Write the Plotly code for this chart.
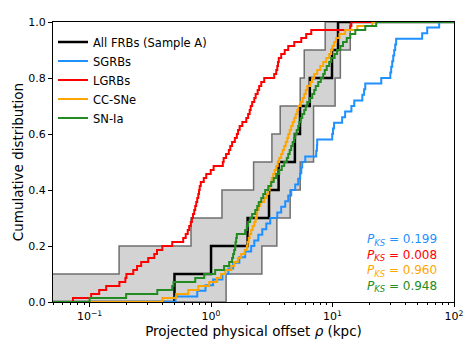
import plotly.graph_objects as go

# Projected offsets (kpc)
frb_offsets = [0.50, 1.00, 2.0, 3.0, 3.6, 4.9, 5.4, 6.5, 9.9, 11.1]

sgrb_offsets = [0.51, 0.77, 0.90, 1.04, 1.24, 1.39, 1.52, 1.71, 1.91, 2.14,
                2.27, 2.45, 2.64, 2.85, 3.07, 3.51, 3.78, 4.08, 4.32, 4.57,
                4.93, 5.22, 5.42, 5.53, 5.63, 5.96, 7.34, 7.44, 7.48, 9.94,
                10.1, 10.3, 12.0, 12.7, 14.3, 15.1, 17.6, 18.2, 18.6, 25.2,
                29.9, 30.4, 31.0, 31.6, 32.2, 32.8, 33.4, 54.7, 60.2, 75.5]

lgrb_offsets = [0.073, 0.103, 0.120, 0.137, 0.176, 0.197, 0.201, 0.229, 0.246, 0.266,
                0.304, 0.341, 0.359, 0.397, 0.479, 0.590, 0.619, 0.643, 0.661, 0.681,
                0.696, 0.710, 0.727, 0.741, 0.755, 0.770, 0.785, 0.797, 0.807, 0.823,
                0.871, 0.913, 0.994, 1.05, 1.25, 1.27, 1.33, 1.40, 1.44, 1.49,
                1.57, 1.63, 1.67, 1.72, 1.81, 1.95, 2.02, 2.08, 2.12, 2.18,
                2.27, 2.33, 2.42, 2.49, 2.59, 2.74, 3.31, 3.44, 3.51, 3.56,
                3.61, 3.78, 4.04, 4.32, 4.84, 5.53, 6.07, 6.68, 14.0, 14.3]

ccsn_offsets = [0.397, 0.517, 0.649, 0.785, 0.966, 1.12, 1.21, 1.31, 1.47, 1.55,
                1.66, 1.77, 1.89, 1.97, 2.00, 2.04, 2.08, 2.14, 2.20, 2.27,
                2.33, 2.38, 2.40, 2.47, 2.54, 2.74, 2.85, 2.96, 3.04, 3.10,
                3.16, 3.25, 3.34, 3.44, 3.54, 3.64, 3.78, 3.89, 4.00, 4.12,
                4.24, 4.32, 4.44, 4.57, 4.70, 4.84, 4.98, 5.12, 5.22, 5.47,
                5.68, 5.85, 6.02, 6.19, 6.55, 6.81, 7.07, 7.48, 7.92, 8.38,
                8.87, 9.39, 9.76, 10.0, 10.3, 10.7, 11.4, 12.7, 16.0, 21.2]

snia_offsets = [0.100, 0.200, 0.361, 0.479, 0.491, 0.741, 0.879, 1.08, 1.28, 1.41,
                1.49, 1.52, 1.55, 1.58, 1.59, 1.61, 1.63, 1.91, 1.97, 2.02,
                2.10, 2.18, 2.31, 2.40, 2.47, 2.59, 2.69, 2.79, 2.96, 3.13,
                3.28, 3.44, 3.64, 3.82, 4.00, 4.20, 4.32, 4.44, 4.57, 4.70,
                4.84, 4.93, 5.07, 5.22, 5.32, 5.47, 5.63, 5.85, 6.02, 6.19,
                6.49, 6.81, 7.07, 7.27, 7.63, 8.00, 8.38, 8.63, 8.96, 9.39,
                9.76, 10.4, 10.9, 11.6, 12.2, 13.1, 14.0, 15.4, 18.6, 22.9]

# Grey uncertainty band around the FRB distribution
band_hi_start = 0.1
band_hi_x = [0.175, 0.684, 1.23, 2.24, 3.17, 3.71, 5.42, 5.85, 8.7]
band_lo_x = [1.33, 2.62, 3.48, 4.48, 5.42, 6.98, 6.98, 10.5, 11.6, 14.0]

pks_labels = ['0.199', '0.008', '0.960', '0.948']
pks_colors = ['dodgerblue', 'red', 'orange', 'forestgreen']

XMIN, XMAX = 0.01, 1000.0


def ecdf(vals):
    vals = sorted(vals)
    n = len(vals)
    xs = [XMIN] + vals + [XMAX]
    ys = [0.0] + [(i + 1) / n for i in range(n)] + [1.0]
    return xs, ys


def step_path(start, xs, step):
    px, py = [XMIN], [start]
    lev = start
    for x in xs:
        px += [x, x]
        py += [lev, round(lev + step, 6)]
        lev = round(lev + step, 6)
    px.append(XMAX)
    py.append(lev)
    return px, py


hx, hy = step_path(band_hi_start, band_hi_x, 0.1)
lx, ly = step_path(0.0, band_lo_x, 0.1)

fig = go.Figure()
fig.add_trace(go.Scatter(
    x=hx + lx[::-1], y=hy + ly[::-1], fill='toself', mode='lines',
    fillcolor='#d3d3d3', line=dict(color='#6f6f6f', width=1.5),
    showlegend=False, hoverinfo='skip'))

series = [
    ('All FRBs (Sample A)', frb_offsets, 'black', 2.5),
    ('SGRBs', sgrb_offsets, 'dodgerblue', 2),
    ('LGRBs', lgrb_offsets, 'red', 2),
    ('CC-SNe', ccsn_offsets, 'orange', 2),
    ('SN-Ia', snia_offsets, 'forestgreen', 2),
]
for name, vals, col, w in series:
    xs, ys = ecdf(vals)
    fig.add_trace(go.Scatter(x=xs, y=ys, mode='lines', name=name,
                             line=dict(color=col, width=w, shape='hv')))

# KS p-values, one coloured line each
pks_text = '<br>'.join(
    '<span style="color:%s"><i>P</i><sub><i>KS</i></sub> = %s</span>' % (c, p)
    for p, c in zip(pks_labels, pks_colors))
fig.add_annotation(
    xref='paper', yref='paper', x=0.962, y=0.141,
    xanchor='right', yanchor='middle', align='right', showarrow=False,
    text=pks_text, font=dict(size=12))

minor_vals = [m * 10 ** e for e in (-2, -1, 0, 1) for m in range(2, 10)]

# the page puts the plot 8px in from the top-left corner
fig.update_layout(
    width=466, height=348,
    margin=dict(l=45, r=20, t=8, b=54),
    paper_bgcolor='white', plot_bgcolor='white',
    font=dict(family='DejaVu Sans', color='black', size=11),
    legend=dict(x=0.0, y=0.98, xanchor='left', yanchor='top',
                bgcolor='rgba(0,0,0,0)', font=dict(size=11.5),
                tracegroupgap=0, itemwidth=30),
)
fig.update_xaxes(
    type='log', range=[-1.30103, 2],
    tickvals=[0.1, 1, 10, 100],
    ticktext=['10<sup>−1</sup>', '10<sup>0</sup>', '10<sup>1</sup>', '10<sup>2</sup>'],
    ticks='outside', ticklen=4, tickwidth=1, tickcolor='black',
    minor=dict(tickmode='array', tickvals=minor_vals, ticks='outside',
               ticklen=2, tickcolor='black'),
    showline=True, linecolor='black', linewidth=1, mirror=True,
    showgrid=False, zeroline=False,
    title=dict(text='Projected physical offset <i>ρ</i> (kpc)',
               font=dict(size=13.5), standoff=1),
)
fig.update_yaxes(
    range=[0, 1], tickvals=[0, 0.2, 0.4, 0.6, 0.8, 1.0], tickformat='.1f',
    ticks='outside', ticklen=4, tickwidth=1, tickcolor='black',
    showline=True, linecolor='black', linewidth=1, mirror=True,
    showgrid=False, zeroline=False,
    title=dict(text='Cumulative distribution', font=dict(size=13.5), standoff=1),
)

fig.write_html('out.html')
